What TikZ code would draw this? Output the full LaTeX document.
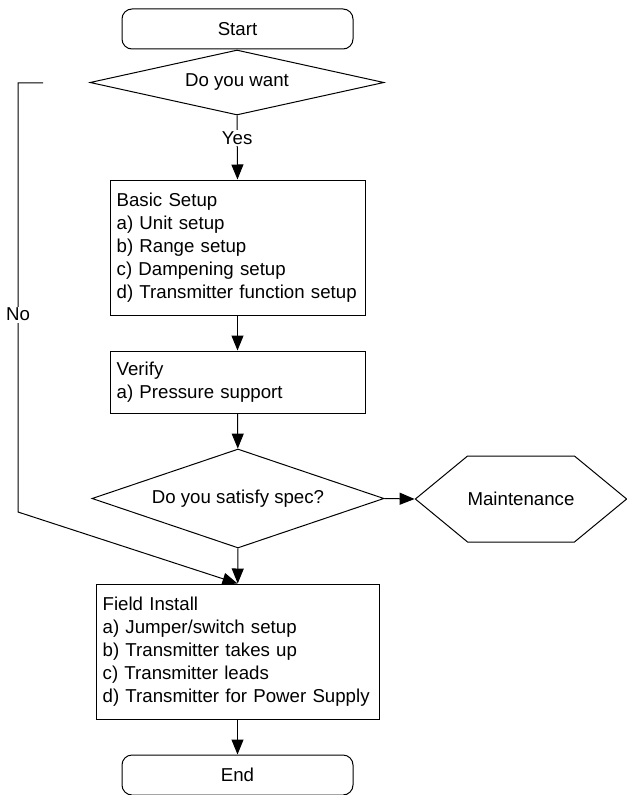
\documentclass[tikz,border=0pt]{standalone}
\usepackage{fontspec}
\setmainfont{Liberation Sans}
\usepackage{tikz}
\usetikzlibrary{arrows.meta, shapes.geometric, shapes.symbols}

\begin{document}
\begin{tikzpicture}[x=0.75pt, y=-0.75pt, line width=0.75pt,
  font=\fontsize{14}{17.25}\selectfont,
  >={Triangle[length=11.25pt, width=9pt]},
  term/.style={draw, rectangle, rounded corners=7.5pt, minimum width=173.25pt, minimum height=30pt, inner sep=0pt},
  ask/.style={draw, diamond, inner sep=0pt},
  stepbox/.style={draw, rectangle, align=left, inner xsep=5pt, inner ysep=0pt}]
\useasboundingbox (0,0) rectangle (626,795);

\node[term] (start) at (237.5, 29) {Start};
\node[ask, minimum width=220.5pt, minimum height=48.75pt, shape aspect=4.5] (want) at (237, 82.5) {Do you want};
\node[stepbox, text width=181.25pt, minimum height=101.25pt] (basic) at (237.5, 247.5) {Basic Setup\\a) Unit setup\\b) Range setup\\c) Dampening setup\\d) Transmitter function setup};
\node[stepbox, text width=181.25pt, minimum height=46.5pt] (verify) at (237.5, 382) {Verify\\a) Pressure support};
\node[ask, minimum width=219pt, minimum height=74.25pt, shape aspect=2.95] (spec) at (238, 498.5) {Do you satisfy spec?};
\node[draw, signal, signal to=west and east, signal pointer angle=79, minimum width=157.5pt, minimum height=64.5pt, inner sep=0pt] (maint) at (521, 499) {Maintenance};
\node[stepbox, text width=202.25pt, minimum height=101.25pt] (field) at (237.5, 651.5) {Field Install\\a) Jumper/switch setup\\b) Transmitter takes up\\c) Transmitter leads\\d) Transmitter for Power Supply};
\node[term] (end) at (237.5, 775) {End};

\coordinate (nostart) at (43, 83);
\coordinate (notop) at (18, 83);
\coordinate (nobot) at (18, 512);

\draw[->] (want.south) -- node[pos=0.35, fill=white, inner sep=1pt] {Yes} (basic.north);
\draw[->] (basic) -- (verify);
\draw[->] (verify) -- (spec);
\draw[->] (spec) -- (field);
\draw[->] (spec.east) -- (maint.west);
\draw[->] (field) -- (end);
\draw[->] (nostart) -- (notop) -- node[pos=0.54, fill=white, inner sep=1pt] {No} (nobot) -- (field.north);
\end{tikzpicture}
\end{document}
